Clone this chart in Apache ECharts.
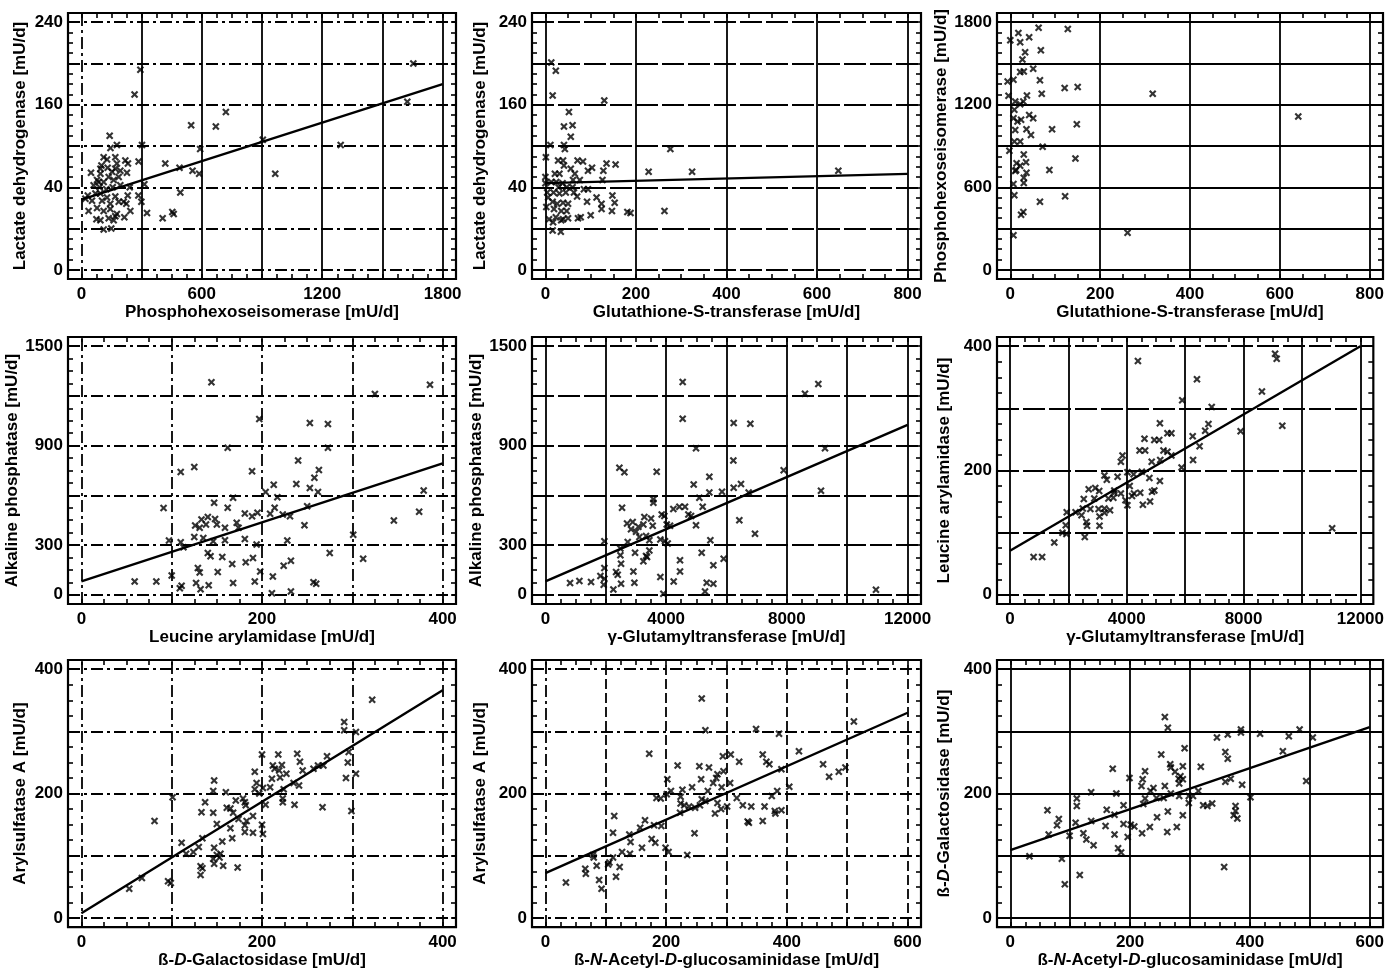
<!DOCTYPE html>
<html><head><meta charset="utf-8">
<script src="https://cdn.jsdelivr.net/npm/echarts@6/dist/echarts.min.js"></script>
<style>html,body{margin:0;padding:0;background:#fff}#c{width:1387px;height:970px}</style>
</head><body><div id="c"></div>
<script>
// ---------- DATA ----------
// Panel 1: Phosphohexoseisomerase vs Lactate dehydrogenase
const p1Points = [[294,194],[265,170],[1654,200],[1624,163],[720,153],[547,140],[670,139],[904,126],[1292,121],[592,117],[302,121],[141,130],[145,118],[177,121],[418,103],[489,99],[554,96],[587,93],[966,93],[493,75],[460,54],[453,56],[405,50],[327,55],[314,83],[299,66],[284,72],[285,105],[111,109],[128,107],[100,101],[48,94],[95,93],[177,103],[169,98],[153,95],[194,96],[219,106],[232,103],[227,94],[78,87],[111,85],[161,87],[186,90],[61,82],[91,80],[124,78],[156,80],[194,82],[241,80],[32,72],[70,74],[95,74],[128,70],[169,71],[231,72],[53,67],[103,67],[144,64],[186,66],[211,66],[224,64],[36,57],[78,60],[111,57],[144,59],[177,54],[244,57],[75,49],[95,48],[136,50],[169,52],[161,48],[214,51],[111,39],[149,40],[86,85],[136,90],[95,98],[131,99],[169,109],[20,69]];
const p1Line = [[0,68],[1800,180]];
// Panel 2: Glutathione-S-transferase vs Lactate dehydrogenase
const p2Points = [[13,201],[23,193],[16,169],[130,164],[52,153],[41,139],[60,140],[56,129],[11,121],[41,121],[43,117],[276,117],[1,109],[28,106],[39,106],[41,101],[56,98],[71,106],[83,105],[94,96],[103,99],[135,103],[155,102],[128,96],[228,95],[324,95],[647,96],[0,90],[21,93],[31,93],[65,93],[76,87],[126,87],[0,84],[13,85],[24,85],[38,84],[60,80],[85,78],[94,78],[6,70],[18,75],[31,74],[45,75],[63,75],[70,71],[113,70],[148,72],[124,64],[92,66],[153,65],[16,66],[26,64],[39,65],[50,64],[2,61],[19,59],[35,57],[47,57],[8,49],[23,51],[39,49],[50,50],[72,50],[78,51],[100,53],[124,59],[147,57],[181,56],[188,55],[263,57],[17,46],[35,48],[16,38],[34,37],[4,75],[29,80],[47,80],[61,87]];
const p2Line = [[0,84],[800,93]];
// Panel 3: Glutathione-S-transferase vs Phosphohexoseisomerase
const p3Points = [[63,1759],[128,1751],[18,1722],[42,1691],[0,1669],[22,1654],[68,1596],[33,1581],[27,1528],[51,1462],[22,1438],[30,1442],[7,1382],[66,1377],[-6,1369],[121,1321],[150,1328],[70,1279],[317,1279],[37,1267],[-4,1265],[11,1224],[29,1224],[22,1204],[9,1163],[7,1102],[42,1126],[51,1102],[24,1090],[641,1114],[148,1058],[11,1017],[36,1022],[46,980],[93,1022],[9,932],[22,932],[72,895],[-2,866],[30,839],[14,774],[35,781],[22,757],[145,810],[87,725],[11,718],[36,705],[30,669],[7,623],[30,632],[9,542],[122,535],[66,494],[29,421],[24,401],[7,251],[261,270],[16,1078],[13,725]];
// Panel 4: Leucine arylamidase vs Alkaline phosphatase
const p4Points = [[144,1282],[386,1268],[325,1211],[197,1060],[253,1036],[273,1030],[162,888],[273,888],[240,810],[110,741],[125,771],[189,745],[263,753],[258,707],[238,668],[213,664],[253,644],[262,620],[204,620],[217,589],[168,585],[147,555],[379,630],[91,523],[162,525],[214,525],[250,535],[374,501],[181,491],[189,474],[195,495],[209,489],[223,485],[231,474],[126,418],[133,454],[140,470],[148,458],[131,404],[138,424],[150,424],[159,404],[172,434],[174,404],[247,420],[346,448],[125,349],[135,343],[146,323],[159,329],[181,337],[194,303],[228,327],[97,327],[110,317],[113,287],[301,363],[140,252],[143,232],[156,228],[312,218],[275,252],[190,222],[182,196],[232,206],[167,186],[224,176],[129,161],[131,135],[151,137],[198,141],[100,117],[212,111],[59,81],[83,81],[111,55],[109,40],[127,71],[141,57],[132,34],[168,71],[192,81],[257,75],[260,67],[211,10],[232,20]];
const p4Line = [[0,81],[400,793]];
// Panel 5: gamma-Glutamyltransferase vs Alkaline phosphatase
const p5Points = [[4548,1284],[9042,1272],[8600,1213],[4548,1062],[6238,1036],[6790,1032],[4990,884],[9263,884],[2451,767],[2617,739],[3687,743],[7894,751],[6227,810],[5432,713],[4913,666],[6480,668],[6238,646],[5432,618],[5851,622],[6734,618],[9130,628],[5100,585],[3577,577],[3577,555],[2539,525],[4239,517],[4438,531],[4626,531],[5211,531],[4736,485],[4825,476],[3853,485],[3941,476],[3279,470],[3500,460],[6425,450],[2705,430],[2892,440],[3080,410],[3246,424],[4019,424],[4129,416],[3555,416],[4990,420],[6944,369],[3003,380],[2837,396],[3113,349],[3334,355],[3444,329],[3809,333],[3963,323],[4052,309],[1954,323],[2727,319],[5465,329],[2484,279],[2970,254],[5178,254],[3444,268],[3334,234],[3246,202],[3367,228],[2484,238],[2506,188],[5906,218],[4460,208],[5564,178],[1954,162],[2915,141],[4460,141],[3809,107],[2341,137],[2396,121],[1822,113],[1954,97],[817,71],[1126,83],[1512,77],[1932,61],[2506,67],[2948,73],[4250,81],[5344,73],[5564,67],[2252,32],[3908,6],[5288,20],[10952,30]];
const p5Line = [[0,81],[12000,1025]];
// Panel 6: gamma-Glutamyltransferase vs Leucine arylamidase
const p6Points = [[4382,376],[9079,388],[9135,380],[6404,347],[8629,327],[5899,313],[6910,302],[9326,272],[6798,275],[5135,276],[7899,263],[6685,264],[5393,260],[5528,260],[6258,255],[4607,251],[4944,249],[5112,249],[6494,239],[4438,232],[4629,232],[5258,232],[5393,230],[5528,224],[3854,224],[3798,214],[6270,217],[4854,214],[5146,217],[5876,205],[4517,198],[4022,197],[4236,194],[3685,190],[4775,188],[3236,192],[3315,185],[5135,183],[4101,175],[2697,170],[2921,172],[3056,167],[3798,163],[3573,164],[4247,163],[4461,164],[4944,168],[4865,166],[2888,155],[3371,155],[3540,156],[3955,152],[2528,154],[2753,138],[3034,138],[3236,139],[3427,136],[4022,144],[4551,145],[4798,150],[2494,139],[2247,133],[1944,133],[2449,128],[2618,117],[3067,126],[3236,132],[3067,111],[2640,111],[1910,112],[1798,100],[1933,98],[2562,93],[1517,84],[809,61],[1101,61],[11034,107],[3573,168],[4180,159]];
const p6Line = [[0,71],[12000,400]];
// Panel 7: beta-D-Galactosidase vs Arylsulfatase A
const p7Points = [[322,351],[291,315],[291,302],[304,299],[296,267],[200,263],[218,263],[239,264],[272,260],[212,245],[222,246],[242,251],[192,235],[214,240],[219,237],[245,237],[257,240],[262,245],[268,245],[295,250],[227,232],[304,232],[293,225],[147,221],[211,224],[220,226],[194,217],[201,209],[209,210],[235,217],[241,213],[146,204],[160,202],[192,207],[197,200],[224,207],[101,194],[179,192],[223,192],[137,186],[171,189],[204,182],[223,186],[236,182],[267,178],[299,172],[161,177],[165,176],[182,181],[181,186],[133,170],[146,169],[168,169],[190,164],[81,156],[150,151],[165,144],[174,159],[183,156],[181,149],[200,150],[181,138],[190,137],[201,135],[167,128],[156,123],[134,128],[111,121],[116,103],[124,106],[130,114],[147,113],[150,101],[154,103],[146,95],[153,97],[132,83],[134,80],[147,87],[157,84],[173,81],[132,69],[96,59],[99,56],[67,64],[53,47]];
const p7Line = [[0,7.5],[400,366]];
// Panel 8: beta-N-Acetyl-D-glucosaminidase vs Arylsulfatase A
const p8Points = [[259,353],[511,316],[349,304],[265,302],[387,296],[172,264],[420,268],[307,263],[294,260],[360,263],[321,251],[366,251],[371,247],[460,247],[219,245],[255,244],[271,242],[391,239],[497,242],[486,235],[470,227],[285,231],[295,236],[283,225],[202,223],[258,223],[278,217],[306,217],[404,211],[208,204],[227,206],[243,210],[269,204],[292,210],[384,204],[184,193],[191,192],[201,199],[224,195],[317,193],[375,196],[259,191],[265,188],[224,184],[230,181],[238,179],[248,177],[256,181],[285,185],[301,179],[327,181],[341,179],[363,179],[291,175],[223,169],[281,168],[380,172],[391,173],[381,168],[335,155],[337,153],[360,156],[114,164],[165,157],[157,145],[180,149],[192,148],[112,137],[139,134],[247,136],[141,122],[160,113],[176,127],[182,121],[199,113],[204,106],[127,106],[140,103],[112,97],[79,101],[80,97],[235,101],[85,84],[104,86],[106,89],[123,82],[66,79],[67,71],[117,66],[89,61],[93,47],[34,57]];
const p8Line = [[0,72],[600,330]];
// Panel 9: beta-N-Acetyl-D-glucosaminidase vs beta-D-Galactosidase
const p9Points = [[258,323],[263,306],[483,303],[385,303],[385,298],[363,295],[417,296],[465,292],[505,290],[345,290],[291,273],[455,268],[359,267],[252,263],[363,256],[267,247],[288,244],[171,240],[318,243],[225,236],[268,242],[275,235],[284,228],[199,225],[221,223],[281,224],[288,223],[368,224],[494,220],[359,219],[387,214],[219,212],[258,212],[239,209],[282,216],[234,204],[135,202],[177,200],[268,200],[282,196],[298,196],[305,196],[314,204],[401,194],[111,192],[225,192],[244,193],[256,193],[298,185],[111,180],[189,181],[222,183],[322,181],[329,180],[337,184],[376,180],[62,173],[161,174],[263,171],[376,172],[174,166],[245,162],[288,165],[373,165],[379,160],[81,159],[78,149],[109,153],[135,156],[159,148],[189,151],[201,150],[207,147],[233,146],[278,146],[64,134],[99,132],[122,136],[174,134],[196,130],[220,136],[262,138],[127,126],[139,117],[180,112],[185,105],[32,99],[86,95],[116,69],[91,54],[357,82]];
const p9Line = [[0,109],[600,307]];

// tick labels
const p1XTicks = [0,600,1200,1800];   const p1YTicks = [0,80,160,240];  const p1YLabels = ['0','40','160','240'];
const p2XTicks = [0,200,400,600,800]; const p2YTicks = [0,80,160,240];  const p2YLabels = ['0','40','160','240'];
const p3XTicks = [0,200,400,600,800]; const p3YTicks = [0,600,1200,1800];
const p4XTicks = [0,200,400];         const p4YTicks = [0,300,900,1500];
const p5XTicks = [0,4000,8000,12000]; const p5YTicks = [0,300,900,1500];
const p6XTicks = [0,4000,8000,12000]; const p6YTicks = [0,200,400];
const p7XTicks = [0,200,400];         const p7YTicks = [0,200,400];
const p8XTicks = [0,200,400,600];     const p8YTicks = [0,200,400];
const p9XTicks = [0,200,400,600];     const p9YTicks = [0,200,400];

// axis names
const nLDH = 'Lactate dehydrogenase [mU/d]';
const nPHI = 'Phosphohexoseisomerase [mU/d]';
const nGST = 'Glutathione-S-transferase [mU/d]';
const nAP  = 'Alkaline phosphatase [mU/d]';
const nLA  = 'Leucine arylamidase [mU/d]';
const nGGT = 'γ-Glutamyltransferase [mU/d]';
const nASA = 'Arylsulfatase A [mU/d]';
const nGAL = '{r|ß-}{i|D}{r|-Galactosidase [mU/d]}';
const nNAG = '{r|ß-}{i|N}{r|-Acetyl-}{i|D}{r|-glucosaminidase [mU/d]}';

// ---------- STYLE / LAYOUT ----------
const FONT = '"Liberation Sans", Arial, sans-serif';
const FS = 17;
const DD = [12,4,3,4];      // dash-dot
const LD = [22,4];          // long dash
const cols = [68,532,997], colW = [388,389,386];
const rows = [13,337,660], rowH = [266,267,268];

const panels = [
  {pts:p1Points,line:p1Line,xr:[0,1800],yr:[0,240],xs:300,ys:40,xT:p1XTicks,yT:p1YTicks,yL:p1YLabels,xn:nPHI,yn:nLDH,h:DD,v:'solid',v0:DD,gap:39},
  {pts:p2Points,line:p2Line,xr:[0,800],yr:[0,240],xs:200,ys:40,xT:p2XTicks,yT:p2YTicks,yL:p2YLabels,xn:nGST,yn:nLDH,h:LD,v:'solid',v0:'solid',gap:43},
  {pts:p3Points,line:null,xr:[0,800],yr:[0,1800],xs:200,ys:300,xT:p3XTicks,yT:p3YTicks,xn:nGST,yn:nPHI,h:'solid',v:'solid',v0:'solid',gap:47},
  {pts:p4Points,line:p4Line,xr:[0,400],yr:[0,1500],xs:100,ys:300,xT:p4XTicks,yT:p4YTicks,xn:nLA,yn:nAP,h:DD,v:DD,v0:DD,gap:38},
  {pts:p5Points,line:p5Line,xr:[0,12000],yr:[0,1500],xs:2000,ys:300,xT:p5XTicks,yT:p5YTicks,xn:nGGT,yn:nAP,h:LD,v:'solid',v0:'solid',gap:43},
  {pts:p6Points,line:p6Line,xr:[0,12000],yr:[0,400],xs:2000,ys:100,xT:p6XTicks,yT:p6YTicks,xn:nGGT,yn:nLA,h:LD,v:'solid',v0:'solid',gap:44},
  {pts:p7Points,line:p7Line,xr:[0,400],yr:[0,400],xs:100,ys:100,xT:p7XTicks,yT:p7YTicks,xn:nGAL,yn:nASA,h:DD,v:DD,v0:DD,gap:39},
  {pts:p8Points,line:p8Line,xr:[0,600],yr:[0,400],xs:100,ys:100,xT:p8XTicks,yT:p8YTicks,xn:nNAG,yn:nASA,h:DD,v:[10,4],v0:DD,gap:43},
  {pts:p9Points,line:p9Line,xr:[0,600],yr:[0,400],xs:100,ys:100,xT:p9XTicks,yT:p9YTicks,xn:nNAG,yn:nGAL,h:'solid',v:'solid',v0:'solid',gap:44}
];

const PADX = 0.037, PADY = 0.037;
const rich = {
  r:{fontFamily:FONT,fontSize:FS,fontWeight:'bold',color:'#000'},
  i:{fontFamily:FONT,fontSize:FS,fontWeight:'bold',fontStyle:'italic',color:'#000'}
};
const XSYM = 'path://M0,2L2,0L5,3L8,0L10,2L7,5L10,8L8,10L5,7L2,10L0,8L3,5Z';

function range(a,b,s){const o=[];for(let v=a;v<=b+1e-9;v+=s)o.push(Math.round(v*1000)/1000);return o;}
function minor(min,max,step){const o=[];let v=Math.ceil(min/step)*step;for(;v<=max+1e-9;v+=step)o.push(Math.round(v*1000)/1000);return o;}

const grid=[],xAxis=[],yAxis=[],series=[];
panels.forEach((p,i)=>{
  const c=i%3, r=Math.floor(i/3);
  grid.push({left:cols[c],top:rows[r],width:colW[c],height:rowH[r],show:true,borderColor:'#000',borderWidth:2.2,backgroundColor:'transparent'});
  const xw=p.xr[1]-p.xr[0], yw=p.yr[1]-p.yr[0];
  const xmin=p.xr[0]-PADX*xw, xmax=p.xr[1]+PADX*xw, ymin=p.yr[0]-PADY*yw, ymax=p.yr[1]+PADY*yw;
  const xm=minor(xmin,xmax,p.xs/4), ym=minor(ymin,ymax,p.ys/4);
  const tick={show:true,inside:true,length:5,lineStyle:{color:'#000',width:1.6}};
  const labStyle={fontFamily:FONT,fontSize:FS,fontWeight:'bold',color:'#000'};
  const noLine={show:false,onZero:false};
  xAxis.push({type:'value',gridIndex:i,min:xmin,max:xmax,position:'bottom',
    axisLine:noLine,splitLine:{show:false},
    axisTick:Object.assign({customValues:xm},tick),
    axisLabel:Object.assign({customValues:p.xT,margin:7,formatter:v=>String(v)},labStyle),
    name:p.xn,nameLocation:'middle',nameGap:24,
    nameTextStyle:Object.assign({rich:rich},labStyle)});
  xAxis.push({type:'value',gridIndex:i,min:xmin,max:xmax,position:'top',
    axisLine:noLine,splitLine:{show:false},axisLabel:{show:false},
    axisTick:Object.assign({customValues:xm},tick)});
  const yl=p.yL;
  yAxis.push({type:'value',gridIndex:i,min:ymin,max:ymax,position:'left',
    axisLine:noLine,splitLine:{show:false},
    axisTick:Object.assign({customValues:ym},tick),
    axisLabel:Object.assign({customValues:p.yT,margin:5,
      formatter:v=>{const k=p.yT.indexOf(v);return yl?yl[k]:String(v);}},labStyle),
    name:p.yn,nameLocation:'middle',nameGap:p.gap,nameRotate:90,
    nameTextStyle:Object.assign({rich:rich},labStyle)});
  yAxis.push({type:'value',gridIndex:i,min:ymin,max:ymax,position:'right',
    axisLine:noLine,splitLine:{show:false},axisLabel:{show:false},
    axisTick:Object.assign({customValues:ym},tick)});
  const ml=[];
  range(p.xr[0],p.xr[1],p.xs).forEach(v=>ml.push({xAxis:v,lineStyle:{type:v===0?p.v0:p.v}}));
  range(p.yr[0],p.yr[1],p.ys).forEach(v=>ml.push({yAxis:v,lineStyle:{type:p.h}}));
  series.push({type:'scatter',xAxisIndex:2*i,yAxisIndex:2*i,data:p.pts,symbol:XSYM,symbolSize:7.5,
    itemStyle:{color:'#000'},silent:true,z:3,
    markLine:{silent:true,symbol:['none','none'],label:{show:false},animation:false,
      lineStyle:{color:'#000',width:1.8},data:ml}});
  if(p.line){
    series.push({type:'line',xAxisIndex:2*i,yAxisIndex:2*i,data:p.line,showSymbol:false,symbol:'none',
      lineStyle:{color:'#000',width:2.4},silent:true,z:4});
  }
});

const chart=echarts.init(document.getElementById('c'),null,{renderer:'canvas'});
chart.setOption({animation:false,backgroundColor:'#fff',grid,xAxis,yAxis,series});
</script></body></html>
